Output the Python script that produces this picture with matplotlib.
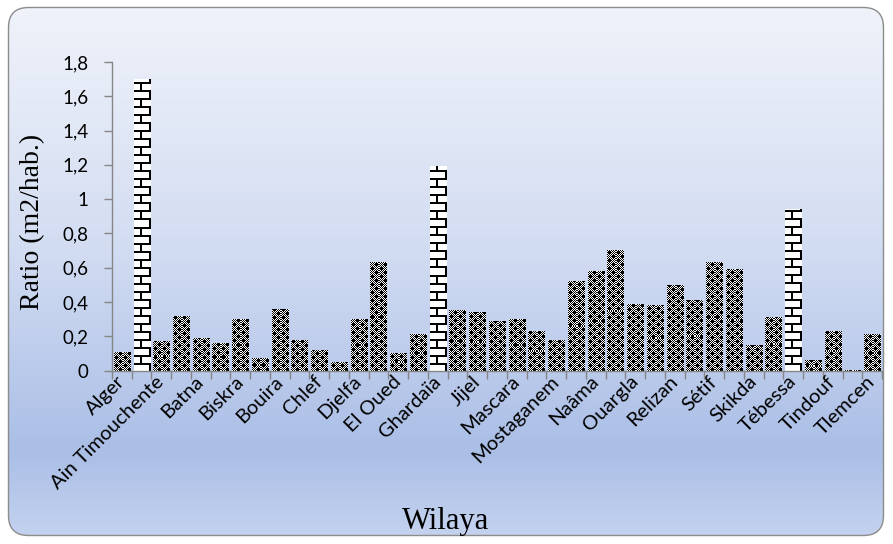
import numpy as np
import matplotlib
matplotlib.use("Agg")
import matplotlib.pyplot as plt
from matplotlib.patches import FancyBboxPatch
from matplotlib.colors import to_rgb

# Ratio of green space per inhabitant for each wilaya (m2/hab.)
values = [0.11, 1.70, 0.17, 0.32, 0.19, 0.16, 0.30, 0.07, 0.36, 0.18,
          0.12, 0.05, 0.30, 0.63, 0.10, 0.21, 1.19, 0.35, 0.34, 0.29,
          0.30, 0.23, 0.18, 0.52, 0.58, 0.70, 0.39, 0.38, 0.50, 0.41,
          0.63, 0.59, 0.15, 0.31, 0.94, 0.06, 0.23, 0.005, 0.21]
# wilayas of the desert, drawn with the brick fill
desert = [1, 16, 34]
tick_labels = ["Alger", "Ain Timouchente", "Batna", "Biskra", "Bouira", "Chlef",
               "Djelfa", "El Oued", "Ghardaïa", "Jijel", "Mascara", "Mostaganem",
               "Naâma", "Ouargla", "Relizan", "Sétif", "Skikda", "Tébessa",
               "Tindouf", "Tlemcen"]
y_ticks = [0, 0.2, 0.4, 0.6, 0.8, 1.0, 1.2, 1.4, 1.6, 1.8]
y_tick_labels = ["0", "0,2", "0,4", "0,6", "0,8", "1", "1,2", "1,4", "1,6", "1,8"]

W, H = 893, 544
fig = plt.figure(figsize=(W / 100, H / 100), dpi=100)

# --- gradient chart-area background with rounded frame ---
bg = fig.add_axes([0, 0, 1, 1], zorder=0)
bg.set_axis_off()
bg.set_xlim(0, W)
bg.set_ylim(H, 0)
stops = [(0.0, "#f0f3fa"), (0.45, "#d3ddf2"), (0.83, "#aabee6"), (1.0, "#c6d4ef")]
ys = np.linspace(0, 1, H)
pos = [s[0] for s in stops]
cols = np.array([to_rgb(s[1]) for s in stops])
grad = np.stack([np.interp(ys, pos, cols[:, k]) for k in range(3)], axis=-1)
grad = grad[:, None, :].repeat(4, axis=1)
frame = FancyBboxPatch((8.5, 7.5), W - 18, H - 16,
                       boxstyle="round,pad=0,rounding_size=20",
                       fc="none", ec="#8c8c8c", lw=1.0, zorder=3)
bg.add_patch(frame)
im = bg.imshow(grad, extent=(0, W, H, 0), aspect="auto", interpolation="bilinear", zorder=1)
im.set_clip_path(frame)

# --- plot area ---
left, right, top, bottom = 112, 882, 62, 370.6
ax = fig.add_axes([left / W, 1 - bottom / H, (right - left) / W, (bottom - top) / H], zorder=1)
ax.patch.set_alpha(0)

x = np.arange(len(values))
bars = ax.bar(x, values, width=0.82, color="none", edgecolor="none")
ax.set_xlim(-0.5, len(values) - 0.5)
ax.set_ylim(0, 1.8)

# fill tiles (1 = black): fine checker with a quincunx of solid blocks
checker = np.indices((8, 8)).sum(axis=0) % 2 == 0
checker = checker.astype(int)
checker[1:4, 1:4] = 1
checker[5:8, 5:8] = 1
brick = np.zeros((16, 16), dtype=int)
brick[0:2, :] = 1
brick[2:8, 6:8] = 1
brick[8:10, :] = 1
brick[10:16, 14:16] = 1


def tiled(tile, h, w):
    th, tw = tile.shape
    reps = (h // th + 2, w // tw + 2)
    big = np.tile(tile, reps)
    # anchor pattern at the bottom-left corner of the bar
    big = big[::-1][:h][::-1][:, :w]
    return big


fig.canvas.draw()
for i, (b, v) in enumerate(zip(bars, values)):
    x0, x1 = b.get_x(), b.get_x() + b.get_width()
    (px0, py0), (px1, py1) = ax.transData.transform([(x0, 0), (x1, v)])
    w_px = max(1, int(round(px1 - px0)))
    h_px = max(1, int(round(py1 - py0)))
    tile = brick if i in desert else checker
    mask = tiled(tile, h_px, w_px)
    img = np.where(mask[..., None] == 1, 0.0, 1.0) * np.ones(3)
    ax.imshow(img, extent=(x0, x1, 0, v), origin="upper", interpolation="nearest",
              aspect="auto", zorder=2, clip_path=b, clip_on=True)

ax.set_xlim(-0.5, len(values) - 0.5)
ax.set_ylim(0, 1.8)
ax.set_aspect("auto")

axis_gray = "#868686"
for s in ["top", "right"]:
    ax.spines[s].set_visible(False)
for s in ["left", "bottom"]:
    ax.spines[s].set_color(axis_gray)
    ax.spines[s].set_linewidth(1.0)

ax.set_yticks(y_ticks)
ax.set_yticklabels(y_tick_labels, family="Lato", size=13.5)
ax.tick_params(axis="y", direction="out", length=6, width=1, color=axis_gray, pad=11)

ax.set_xticks(np.arange(-0.5, len(values), 1.0))
ax.set_xticklabels([])
ax.tick_params(axis="x", which="major", direction="out", length=6, width=1, color=axis_gray)
ax.set_xticks(np.arange(0, len(values), 2), minor=True)
ax.set_xticklabels(tick_labels, minor=True, family="Lato", size=14.5, rotation=45,
                   ha="right", va="center", rotation_mode="anchor")
ax.tick_params(axis="x", which="minor", length=0, pad=6)

fig.text(32.5 / W, 1 - 222 / H, "Ratio (m2/hab.)", family="Liberation Serif", size=20,
         rotation=90, ha="center", va="center")
fig.text(446 / W, 1 - 522 / H, "Wilaya", family="Liberation Serif", size=22,
         ha="center", va="center")

fig.savefig("out.png", dpi=100)
